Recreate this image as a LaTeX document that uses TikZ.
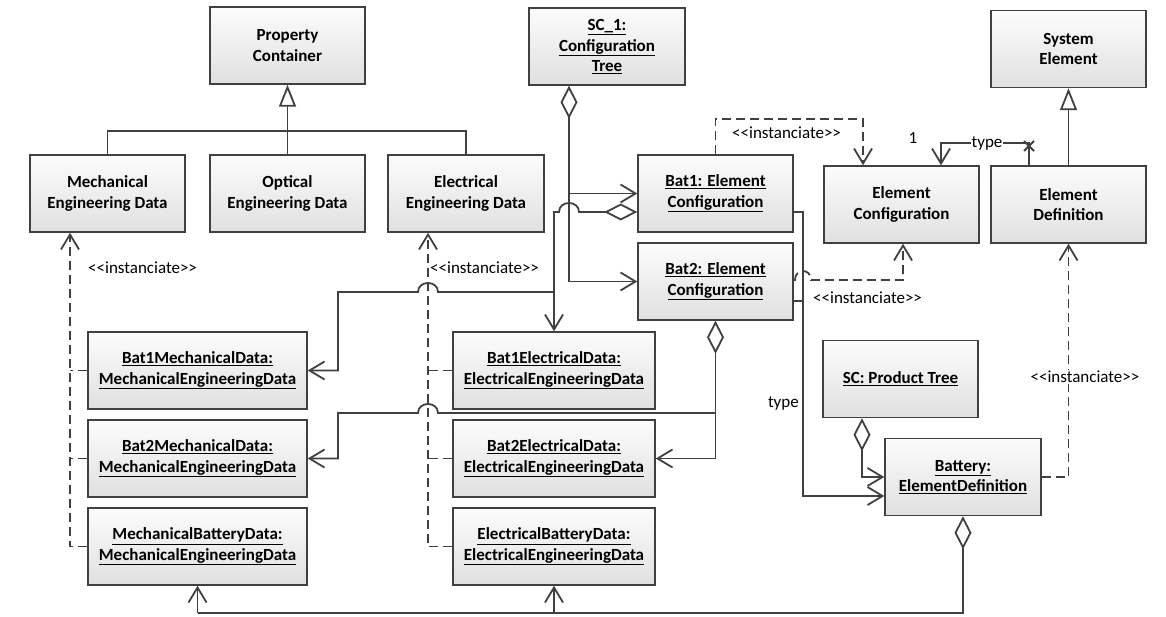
\documentclass[tikz,border=0pt]{standalone}
\usepackage{fontspec}
\setmainfont{Carlito}
\usetikzlibrary{arrows.meta}
\definecolor{umlline}{RGB}{64,64,64}
\definecolor{umltop}{RGB}{252,252,252}
\definecolor{umlbot}{RGB}{224,224,224}
\tikzset{
  umlbox/.style={draw=umlline, line width=1.5pt, top color=umltop, bottom color=umlbot,
    minimum width=155pt, minimum height=77pt, inner sep=2pt, align=center,
    font=\fontsize{17}{20.5}\selectfont\bfseries},
  lbl/.style={inner sep=1pt, font=\fontsize{17}{20.5}\selectfont},
  conn/.style={draw=umlline, line width=1.8pt},
  assoc/.style={conn, -{Straight Barb[length=15pt,width=18pt]}},
  aggr/.style={conn, {Diamond[open,length=33pt,width=17pt]}-{Straight Barb[length=15pt,width=18pt]}},
  aggrend/.style={conn, {Diamond[open,length=33pt,width=17pt]}-},
  gener/.style={conn, -{Triangle[open,length=22pt,width=17pt]}},
  instbranch/.style={conn, dash pattern=on 9pt off 5pt},
  inst/.style={instbranch, -{Straight Barb[length=15pt,width=18pt]}}
}
\newcommand{\stereo}{{<}{<}instanciate{>}{>}}

\begin{document}
\begin{tikzpicture}[x=1pt,y=1pt,yscale=-1]
\useasboundingbox (0,0) rectangle (1166,617);

\node[umlbox] (prop) at (287.5,45.5) {Property\\Container};
\node[umlbox] (mech) at (107.5,193.5) {Mechanical\\Engineering Data};
\node[umlbox] (opt) at (287.5,193.5) {Optical\\Engineering Data};
\node[umlbox, minimum width=156pt] (elec) at (466,193.5) {Electrical\\Engineering Data};
\node[umlbox, minimum width=156pt] (sc1) at (607,46.5) {\underline{SC\_1:}\\\underline{Configuration}\\\underline{Tree}};
\node[umlbox] (bat1) at (715.5,193.5) {\underline{Bat1: Element}\\\underline{Configuration}};
\node[umlbox] (bat2) at (715.5,281.5) {\underline{Bat2: Element}\\\underline{Configuration}};
\node[umlbox] (ec) at (901.5,204.5) {Element\\Configuration};
\node[umlbox] (ed) at (1068.5,204.5) {Element\\Definition};
\node[umlbox] (syse) at (1068.5,49) {System\\Element};
\node[umlbox, minimum width=219pt] (b1m) at (197.5,370.5) {\underline{Bat1MechanicalData:}\\\underline{MechanicalEngineeringData}};
\node[umlbox, minimum width=219pt] (b2m) at (197.5,458.5) {\underline{Bat2MechanicalData:}\\\underline{MechanicalEngineeringData}};
\node[umlbox, minimum width=219pt] (mbd) at (197.5,546.5) {\underline{MechanicalBatteryData:}\\\underline{MechanicalEngineeringData}};
\node[umlbox, minimum width=202pt] (b1e) at (554,370.5) {\underline{Bat1ElectricalData:}\\\underline{ElectricalEngineeringData}};
\node[umlbox, minimum width=202pt] (b2e) at (554,458.5) {\underline{Bat2ElectricalData:}\\\underline{ElectricalEngineeringData}};
\node[umlbox, minimum width=202pt] (ebd) at (554,546.5) {\underline{ElectricalBatteryData:}\\\underline{ElectricalEngineeringData}};
\node[umlbox] (sct) at (900.5,379) {\underline{SC: Product Tree}};
\node[umlbox, minimum width=156pt] (batt) at (963,477) {\underline{Battery:}\\\underline{ElementDefinition}};

\draw[gener] (opt.north) -- (prop.south);
\draw[conn] (mech.north) -- ++(0,-23) -| (elec.north);
\draw[gener] (ed.north) -- (syse.south);

\coordinate (sctrunk) at (sc1.south -| 569,0);
\draw[aggr] (sctrunk) |- (bat1.west);
\draw[assoc] (sctrunk |- bat1.west) |- (bat2.west);

\draw[aggr] (bat1.west |- 0,212) -- (579,212) .. controls (579,200) and (559,200) .. (559,212) -| (b1e.north);
\draw[assoc] (b1e.north |- 0,292) -- (438,292) .. controls (438,280) and (418,280) .. (418,292) -- (338,292) |- (b1m.east);
\draw[aggr] (bat2.south) |- (b2e.east);
\draw[assoc] (bat2.south |- 0,413) -- (438,413) .. controls (438,401) and (418,401) .. (418,413) -- (338,413) |- (b2m.east);

\draw[aggrend] (batt.south) -- (batt.south |- 0,613) -- (mbd.south |- 0,613);
\draw[assoc] (mbd.south |- 0,613) -- (mbd.south);
\draw[assoc] (ebd.south |- 0,613) -- (ebd.south);
\draw[aggr] (sct.south -| 862,0) |- (batt.west);

\draw[assoc] (bat1.east |- 0,212) -- (803,212) |- (batt.west |- 0,496);
\draw[conn] (bat2.east |- 0,301) -- (803,301);
\node[lbl, anchor=east] (typelbl) at (800,403) {type};

\draw[assoc] (ed.north -| 1029,0) -- (1029,143) -| (ec.north -| 941,0);
\draw[conn] (1024,141) -- (1034,151) (1024,151) -- (1034,141);
\node[lbl, fill=white] (typetop) at (987,143) {type};
\node[lbl] (mult) at (913,138) {1};

\draw[inst] (bat1.north) -- (bat1.north |- 0,119) -| (ec.north -| 863,0);
\node[lbl, anchor=west] (instbat1) at (731,133) {\stereo};
\draw[inst] (bat2.east |- 0,280) -- (795,280) .. controls (795,268) and (811,268) .. (811,280) -| (ec.south -| 903,0);
\node[lbl, anchor=west] (instbat2) at (812,298) {\stereo};
\draw[inst] (batt.east) -| (ed.south);
\node[lbl, fill=white] (instbatt) at (1085,377) {\stereo};

\draw[inst] (mbd.west) -| (mech.south -| 70,0);
\draw[instbranch] (b1m.west) -- (b1m.west -| 70,0);
\draw[instbranch] (b2m.west) -- (b2m.west -| 70,0);
\node[lbl, anchor=west] (instmech) at (87,268) {\stereo};
\draw[inst] (ebd.west) -| (elec.south -| 428,0);
\draw[instbranch] (b1e.west) -- (b1e.west -| 428,0);
\draw[instbranch] (b2e.west) -- (b2e.west -| 428,0);
\node[lbl, anchor=west] (instelec) at (429,268) {\stereo};
\end{tikzpicture}
\end{document}
